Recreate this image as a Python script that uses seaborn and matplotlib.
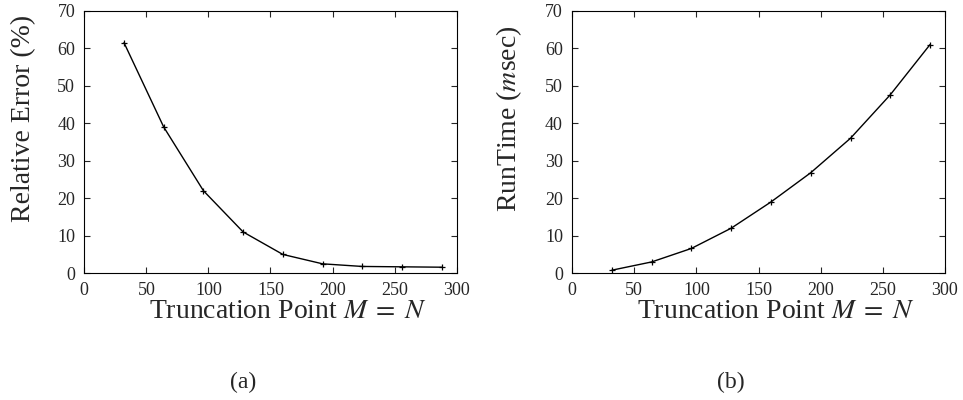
import matplotlib
matplotlib.use("Agg")
import matplotlib.pyplot as plt
import seaborn as sns
import pandas as pd

# --- DADOS ---
truncation = [32, 64, 96, 128, 160, 192, 224, 256, 288]
relative_error = [61.5, 39.0, 22.0, 11.0, 5.0, 2.5, 1.8, 1.7, 1.6]
runtime_msec = [0.8, 3.0, 6.6, 12.0, 19.0, 26.8, 36.0, 47.6, 61.0]
panel_labels = ["(a)", "(b)"]
y_labels = ["Relative Error (%)", "RunTime ($m$sec)"]
x_label = r"Truncation Point $M\;=\;N$"

sns.set_style("ticks")
plt.rcParams["font.family"] = ["Liberation Serif", "DejaVu Serif"]
plt.rcParams["mathtext.fontset"] = "stix"

df = pd.DataFrame({"M": truncation, "err": relative_error, "rt": runtime_msec})

fig = plt.figure(figsize=(9.63, 4.0), dpi=100)
ax_a = fig.add_axes([0.0875, 0.317, 0.3867, 0.656])
ax_b = fig.add_axes([0.594, 0.317, 0.3873, 0.656])

for ax, col, ylab, plab in zip([ax_a, ax_b], ["err", "rt"], y_labels, panel_labels):
    sns.lineplot(data=df, x="M", y=col, ax=ax, color="black", linewidth=1.0,
                 marker="+", markersize=5, markeredgewidth=0.9,
                 markeredgecolor="black")
    ax.set_xlim(0, 300)
    ax.set_ylim(0, 70)
    ax.set_xticks(range(0, 301, 50))
    ax.set_yticks(range(0, 71, 10))
    ax.tick_params(direction="in", top=True, right=True, length=4, width=0.8,
                   labelsize=13, pad=6.5)
    for s in ax.spines.values():
        s.set_linewidth(0.8)
        s.set_color("black")
    ax.set_xlabel(x_label, fontsize=20)
    ax.set_ylabel(ylab, fontsize=20)
    # rotulos deslocados como no original (gnuplot)
    ax.xaxis.set_label_coords(0.547, -0.098)
    ax.yaxis.set_label_coords(-0.128, 0.59)
    ax.text(0.426, -0.418, plab, transform=ax.transAxes, ha="center", va="center",
            fontsize=17)

fig.savefig("out.png", dpi=100)
